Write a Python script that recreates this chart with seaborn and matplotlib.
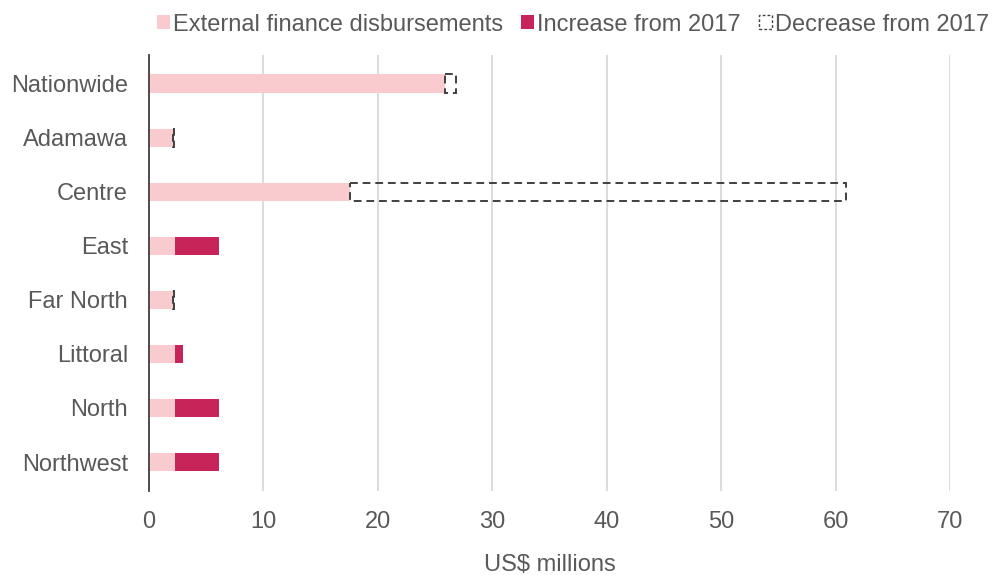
import pandas as pd
import matplotlib
matplotlib.use("Agg")
import matplotlib.pyplot as plt
import matplotlib.patches as mpatches
import seaborn as sns

# data (US$ millions)
regions = ['Nationwide', 'Adamawa', 'Centre', 'East', 'Far North', 'Littoral', 'North', 'Northwest']
disbursed = [25.9, 2.1, 17.6, 2.3, 2.1, 2.3, 2.3, 2.3]
increase = [0, 0, 0, 3.8, 0, 0.7, 3.8, 3.8]
decrease = [0.9, 0.12, 43.3, 0, 0.12, 0, 0, 0]

pink = '#F9CBCF'
red = '#C7255A'
grey_txt = '#595959'

sns.set_theme(style="white")
plt.rcParams['font.family'] = ['Liberation Sans', 'DejaVu Sans']

df = pd.DataFrame({'region': regions, 'disbursed': disbursed,
                   'increase': increase, 'decrease': decrease})

fig = plt.figure(figsize=(9.93, 5.75), dpi=100)
ax = fig.add_axes([0.150, 0.146, 0.807, 0.759])

bw = 0.34
sns.barplot(data=df, y='region', x='disbursed', color=pink, width=bw, saturation=1,
            orient='h', ax=ax, zorder=2, linewidth=0)
ax.barh(df['region'], df['increase'], left=df['disbursed'], height=bw,
        color=red, linewidth=0, zorder=2)
dec = df[df['decrease'] > 0]
ax.barh(dec['region'], dec['decrease'], left=dec['disbursed'], height=bw,
        facecolor='none', edgecolor='#404040', linestyle=(0, (4, 2.5)),
        linewidth=1.4, zorder=3)

ax.set_xlim(0, 70)
ax.set_xticks(range(0, 71, 10))
ax.grid(axis='x', color='#d9d9d9', linewidth=1.3, zorder=0)
ax.grid(axis='y', visible=False)
for s in ['top', 'right', 'bottom']:
    ax.spines[s].set_visible(False)
ax.spines['left'].set_color('#404040')
ax.spines['left'].set_linewidth(1.3)
ax.tick_params(axis='both', length=0, labelsize=17, labelcolor=grey_txt)
ax.tick_params(axis='y', pad=15)
ax.tick_params(axis='x', pad=14.5)
ax.set_ylabel('')
ax.set_xlabel('US$ millions', fontsize=17, color=grey_txt, labelpad=15)

handles = [
    mpatches.Patch(facecolor=pink, edgecolor='none', label='External finance disbursements'),
    mpatches.Patch(facecolor=red, edgecolor='none', label='Increase from 2017'),
    mpatches.Patch(facecolor='white', edgecolor='#404040', linestyle=(0, (2, 1.5)),
                   linewidth=1, label='Decrease from 2017'),
]
leg = fig.legend(handles=handles, loc='center', bbox_to_anchor=(0.577, 0.957), ncol=3,
                 frameon=False, fontsize=17, handlelength=0.55, handleheight=0.55,
                 handletextpad=0.15, columnspacing=0.75, borderaxespad=0)
for t in leg.get_texts():
    t.set_color(grey_txt)

fig.savefig('out.png', dpi=100)
